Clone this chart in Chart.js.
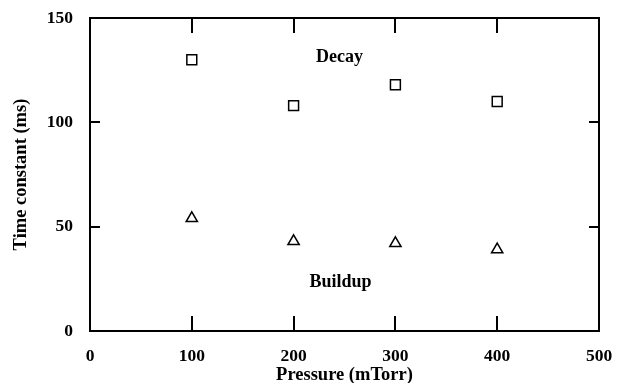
<!DOCTYPE html>
<html>
<head>
<meta charset="utf-8">
<script src="https://cdn.jsdelivr.net/npm/chart.js@4"></script>
<style>
  html, body { margin: 0; padding: 0; background: #fff; }
  canvas { display: block; }
</style>
</head>
<body>
<canvas id="chart" width="617" height="383"></canvas>
<script>
// Pressure (mTorr) and time constants (ms)
const pressure = [100, 200, 300, 400];
const decay = [130, 108, 118, 110];
const buildup = [54, 43, 42, 39];
const xTicks = [0, 100, 200, 300, 400, 500];
const yTicks = [0, 50, 100, 150];

// series names drawn next to the points
const seriesLabels = [
  { text: 'Decay', x: 245, y: 131 },
  { text: 'Buildup', x: 246, y: 23.5 }
];

const FONT = 'Liberation Serif, Times New Roman, serif';

// frame plus inward tick marks on all four sides
const framePlugin = {
  id: 'frame',
  afterDraw(chart) {
    const { ctx, chartArea: a, scales } = chart;
    ctx.save();
    ctx.strokeStyle = '#000';
    ctx.lineWidth = 2;
    ctx.strokeRect(a.left, a.top, a.right - a.left, a.bottom - a.top);
    ctx.beginPath();
    xTicks.slice(1, -1).forEach(v => {
      const px = Math.round(scales.x.getPixelForValue(v));
      ctx.moveTo(px, a.bottom); ctx.lineTo(px, a.bottom - 15);
      ctx.moveTo(px, a.top); ctx.lineTo(px, a.top + 15);
    });
    yTicks.slice(1, -1).forEach(v => {
      const py = Math.round(scales.y.getPixelForValue(v));
      ctx.moveTo(a.left, py); ctx.lineTo(a.left + 10, py);
      ctx.moveTo(a.right, py); ctx.lineTo(a.right - 10, py);
    });
    ctx.stroke();

    ctx.fillStyle = '#000';
    ctx.font = 'bold 18px ' + FONT;
    ctx.textAlign = 'center';
    ctx.textBaseline = 'middle';
    seriesLabels.forEach(l => {
      ctx.fillText(l.text, scales.x.getPixelForValue(l.x), scales.y.getPixelForValue(l.y));
    });
    ctx.restore();
  }
};

new Chart(document.getElementById('chart'), {
  type: 'scatter',
  data: {
    datasets: [
      {
        label: 'Decay',
        data: pressure.map((p, i) => ({ x: p, y: decay[i] })),
        pointStyle: 'rect',
        pointRadius: 7,
        borderColor: '#000',
        backgroundColor: 'rgba(0,0,0,0)',
        borderWidth: 1.5
      },
      {
        label: 'Buildup',
        data: pressure.map((p, i) => ({ x: p, y: buildup[i] })),
        pointStyle: 'triangle',
        pointRadius: 6.5,
        borderColor: '#000',
        backgroundColor: 'rgba(0,0,0,0)',
        borderWidth: 1.5
      }
    ]
  },
  options: {
    responsive: false,
    devicePixelRatio: 1,
    animation: false,
    layout: { padding: { top: 18, right: 18, left: 0, bottom: 0 } },
    plugins: { legend: { display: false }, tooltip: { enabled: false } },
    scales: {
      x: {
        type: 'linear',
        min: 0,
        max: 500,
        afterBuildTicks: s => { s.ticks = xTicks.map(v => ({ value: v })); },
        afterFit: s => { s.height = 52; s.paddingLeft = 0; s.paddingRight = 0; },
        grid: { display: false, drawTicks: false },
        border: { display: false },
        ticks: { color: '#000', padding: 15, font: { family: FONT, size: 17.5, weight: 'bold' } },
        title: {
          display: true,
          text: 'Pressure (mTorr)',
          color: '#000',
          padding: { top: 0, bottom: -3 },
          font: { family: FONT, size: 18.5, weight: 'bold' }
        }
      },
      y: {
        min: 0,
        max: 150,
        afterBuildTicks: s => { s.ticks = yTicks.map(v => ({ value: v })); },
        afterFit: s => { s.width = 90; s.paddingTop = 0; s.paddingBottom = 0; },
        grid: { display: false, drawTicks: false },
        border: { display: false },
        ticks: { color: '#000', padding: 17, font: { family: FONT, size: 17.5, weight: 'bold' } },
        title: {
          display: true,
          text: 'Time constant (ms)',
          color: '#000',
          padding: { top: 10, bottom: 0 },
          font: { family: FONT, size: 18.5, weight: 'bold' }
        }
      }
    }
  },
  plugins: [framePlugin]
});
</script>
</body>
</html>
